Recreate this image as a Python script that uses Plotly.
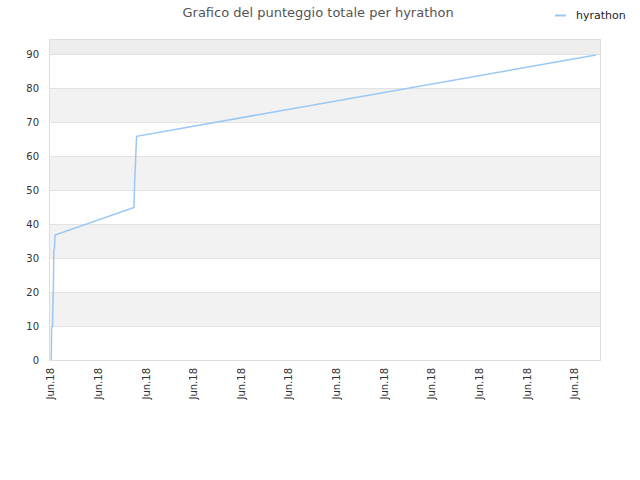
import plotly.graph_objects as go

# data
times = ["2018-06-05 00:09", "2018-06-05 00:18", "2018-06-05 00:45", "2018-06-05 00:54",
         "2018-06-05 01:16", "2018-06-05 01:25", "2018-06-05 01:46", "2018-06-05 02:01",
         "2018-06-06 17:49", "2018-06-06 18:07", "2018-06-06 18:43", "2018-06-06 19:07",
         "2018-06-16 10:33"]
scores = [0, 9.4, 10, 22.7, 23.5, 32.4, 33, 36.9, 45, 52, 60, 66, 90]
series_name = "hyrathon"
title = "Grafico del punteggio totale per hyrathon"
y_ticks = [0, 10, 20, 30, 40, 50, 60, 70, 80, 90]
y_max = 94.4
x_range = ["2018-06-04 23:30", "2018-06-16 12:35"]
x_tick0 = "2018-06-05"

line_color = "#99c8f5"

fig = go.Figure()
fig.add_trace(go.Scatter(x=times, y=scores, mode="lines", name=series_name,
                         line=dict(color=line_color, width=1.5), showlegend=False))

# alternating background bands
bounds = y_ticks + [y_max]
for i in range(len(bounds) - 1):
    if i % 2 == 1:
        fig.add_shape(type="rect", xref="paper", x0=0, x1=1, yref="y",
                      y0=bounds[i], y1=bounds[i + 1], fillcolor="#f2f2f2",
                      line_width=0, layer="below")
fig.add_shape(type="rect", xref="paper", x0=0, x1=1, yref="y",
              y0=y_ticks[-1], y1=y_max, fillcolor="#eeeeee", line_width=0, layer="below")

# legend (short line sample + label) drawn in paper space
W, H = 640, 480
L, R, T, B = 50, 40, 40, 120
pw, ph = W - L - R, H - T - B
def px_x(x):
    return (x - L) / pw
def px_y(y):
    return (H - B - y) / ph
fig.add_shape(type="line", xref="paper", yref="paper",
              x0=px_x(555), x1=px_x(566), y0=px_y(15.5), y1=px_y(15.5),
              line=dict(color=line_color, width=2))
fig.add_annotation(text=series_name, xref="paper", yref="paper",
                   x=px_x(574), y=px_y(15), xanchor="left", yanchor="middle",
                   showarrow=False, font=dict(size=11, color="#222"))

fig.update_layout(
    width=W, height=H,
    margin=dict(l=L, r=R, t=T, b=B),
    paper_bgcolor="white", plot_bgcolor="white",
    font=dict(family="DejaVu Sans", size=11, color="#333"),
    title=dict(text=title, x=0.497, xanchor="center", y=1 - 12.5 / H, yanchor="middle",
               font=dict(size=13, color="#555")),
    showlegend=False,
    xaxis=dict(range=x_range, tick0=x_tick0, dtick=86400000, tickformat="%b.%y",
               tickangle=-90, showgrid=False, zeroline=False, showline=True,
               linecolor="#dddddd", mirror=True, ticks="", ticklabelstandoff=3,
               tickfont=dict(size=10, color="#333")),
    yaxis=dict(range=[0, y_max], tickvals=y_ticks, showgrid=True, gridcolor="#e2e2e2",
               zeroline=False, showline=True, linecolor="#dddddd", mirror=True,
               ticks="", ticklabelstandoff=8, tickfont=dict(size=10, color="#333")),
)

fig.write_html("out.html", config={"displayModeBar": False},
               post_script="document.body.style.margin='0';")
